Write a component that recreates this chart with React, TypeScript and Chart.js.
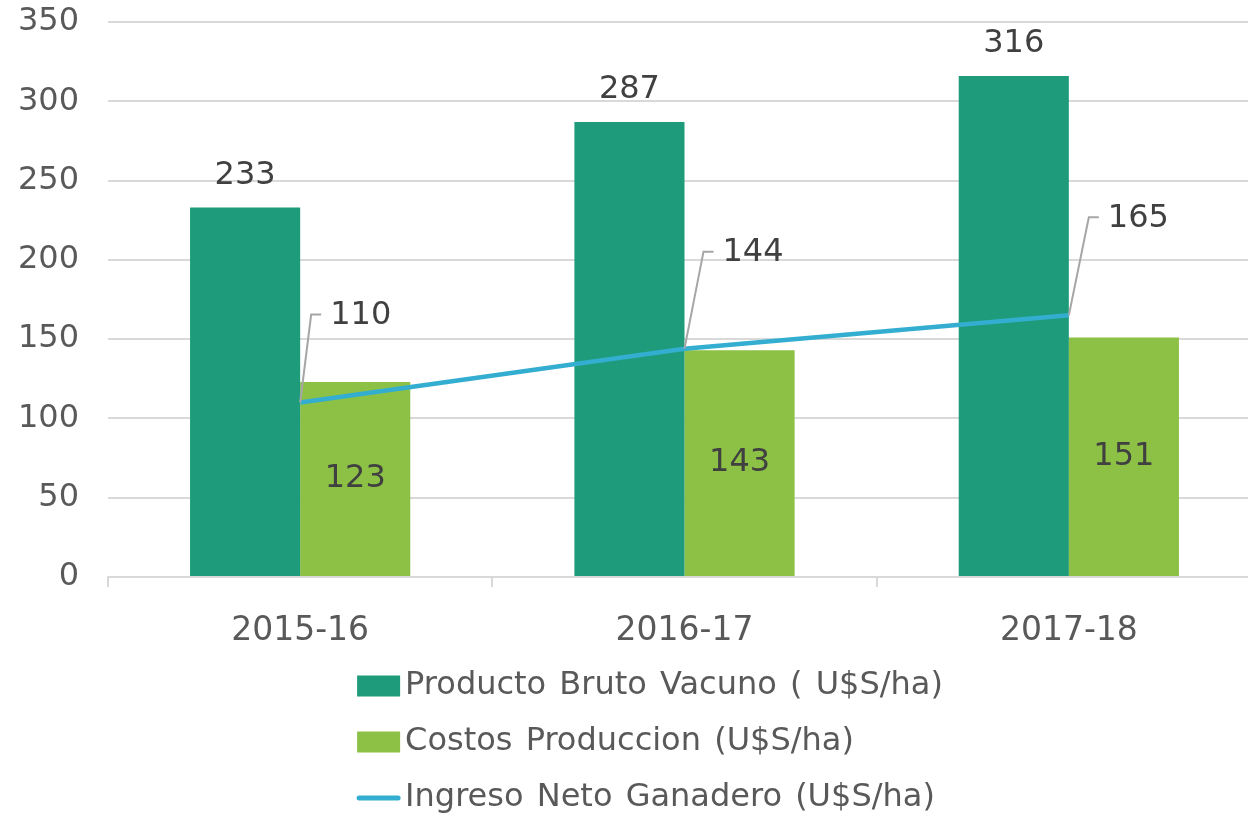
import React, { useEffect, useRef } from "react";
import { Chart, registerables } from "chart.js";

Chart.register(...registerables);

const categories = ["2015-16", "2016-17", "2017-18"];
const productoBruto = [233, 287, 316];
const costosProduccion = [123, 143, 151];
const ingresoNeto = [110, 144, 165];
const seriesNames = [
  "Producto Bruto Vacuno ( U$S/ha)",
  "Costos Produccion (U$S/ha)",
  "Ingreso Neto Ganadero (U$S/ha)",
];
const yMin = 0;
const yMax = 350;
const yStep = 50;

// leader-line label offsets (layout only) for the line series labels
const leaderDx = [11, 19, 20];
const leaderDy = [-88, -97, -98];

const FONT = "'DejaVu Sans', Verdana, sans-serif";
const DARK_GREEN = "#1E9B7A";
const LIGHT_GREEN = "#8CC145";
const BLUE = "#33AED0";
const LABEL_COLOR = "#404040";
const TICK_COLOR = "#595959";
const GRID_COLOR = "#D9D9D9";

const CANVAS_W = 1300;
const CANVAS_H = 815;

const dataLabelPlugin = {
  id: "dataLabels",
  afterDatasetsDraw(chart: any) {
    const ctx = chart.ctx;
    ctx.save();
    ctx.font = `32px ${FONT}`;
    ctx.fillStyle = LABEL_COLOR;
    ctx.textAlign = "center";
    ctx.textBaseline = "middle";
    const m0 = chart.getDatasetMeta(0);
    m0.data.forEach((el: any, i: number) => {
      ctx.fillText(String(chart.data.datasets[0].data[i]), el.x, el.y - 32);
    });
    const m1 = chart.getDatasetMeta(1);
    m1.data.forEach((el: any, i: number) => {
      ctx.fillText(String(chart.data.datasets[1].data[i]), el.x, (el.y + el.base) / 2);
    });
    const m2 = chart.getDatasetMeta(2);
    m2.data.forEach((el: any, i: number) => {
      const px = el.x;
      const py = el.y;
      const kx = px + leaderDx[i];
      const ky = py + leaderDy[i];
      ctx.strokeStyle = "#A6A6A6";
      ctx.lineWidth = 2;
      ctx.beginPath();
      ctx.moveTo(px, py);
      ctx.lineTo(kx, ky);
      ctx.lineTo(kx + 10, ky);
      ctx.stroke();
      ctx.textAlign = "left";
      ctx.fillText(String(chart.data.datasets[2].data[i]), kx + 19, ky + 1);
    });
    ctx.restore();
  },
};

const legendPlugin = {
  id: "customLegend",
  afterDraw(chart: any) {
    const ctx = chart.ctx;
    ctx.save();
    ctx.font = `32px ${FONT}`;
    try {
      (ctx as any).wordSpacing = "3px";
    } catch (e) {}
    const names = chart.data.datasets.map((d: any) => d.label);
    const maxW = Math.max(...names.map((n: string) => ctx.measureText(n).width));
    const boxW = 43;
    const gap = 5;
    const blockW = boxW + gap + maxW;
    const x0 = (chart.width - blockW) / 2;
    const base = chart.chartArea.bottom;
    const rows = [109, 165, 221];
    chart.data.datasets.forEach((d: any, i: number) => {
      const cy = base + rows[i];
      if (d.type === "line") {
        ctx.strokeStyle = d.borderColor;
        ctx.lineWidth = 5;
        ctx.lineCap = "round";
        ctx.beginPath();
        ctx.moveTo(x0 + 2, cy);
        ctx.lineTo(x0 + boxW - 2, cy);
        ctx.stroke();
      } else {
        ctx.fillStyle = d.backgroundColor;
        ctx.fillRect(x0, cy - 10.5, boxW, 21);
      }
      ctx.fillStyle = TICK_COLOR;
      ctx.textAlign = "left";
      ctx.textBaseline = "middle";
      ctx.fillText(d.label, x0 + boxW + gap, cy);
    });
    ctx.restore();
  },
};

export default function App() {
  const canvasRef = useRef<HTMLCanvasElement | null>(null);

  useEffect(() => {
    if (!canvasRef.current) return;
    const chart = new Chart(canvasRef.current, {
      type: "bar",
      data: {
        labels: categories,
        datasets: [
          {
            type: "bar",
            label: seriesNames[0],
            data: productoBruto,
            backgroundColor: DARK_GREEN,
            categoryPercentage: 0.573,
            barPercentage: 1,
            order: 1,
          },
          {
            type: "bar",
            label: seriesNames[1],
            data: costosProduccion,
            backgroundColor: LIGHT_GREEN,
            categoryPercentage: 0.573,
            barPercentage: 1,
            order: 1,
          },
          {
            type: "line",
            label: seriesNames[2],
            data: ingresoNeto,
            borderColor: BLUE,
            backgroundColor: BLUE,
            borderWidth: 4.5,
            pointRadius: 0,
            tension: 0,
            order: 0,
          } as any,
        ],
      },
      options: {
        responsive: false,
        animation: false,
        devicePixelRatio: 1,
        layout: { padding: { top: 22, right: 39, left: 0, bottom: 0 } },
        plugins: {
          legend: { display: false },
          tooltip: { enabled: false },
        },
        scales: {
          x: {
            grid: {
              display: true,
              drawOnChartArea: false,
              drawTicks: true,
              tickLength: 10,
              color: GRID_COLOR,
              lineWidth: 2,
              offset: true,
            },
            border: { display: true, color: GRID_COLOR, width: 2 },
            ticks: {
              color: TICK_COLOR,
              font: { family: FONT, size: 33 },
              padding: 25,
              maxRotation: 0,
            },
            afterFit: (s: any) => {
              s.height = CANVAS_H - 577;
              s.paddingLeft = 0;
              s.paddingRight = 0;
            },
          },
          y: {
            min: yMin,
            max: yMax,
            grid: { color: GRID_COLOR, lineWidth: 2, drawTicks: false },
            border: { display: false },
            ticks: {
              stepSize: yStep,
              color: TICK_COLOR,
              font: { family: FONT, size: 32 },
              padding: 29,
            },
            afterFit: (s: any) => {
              s.width = 108;
              s.paddingTop = 0;
              s.paddingBottom = 0;
            },
          },
        },
      },
      plugins: [dataLabelPlugin, legendPlugin],
    });
    return () => chart.destroy();
  }, []);

  return (
    <div
      style={{
        position: "fixed",
        left: 0,
        top: 0,
        width: 1248,
        height: 815,
        overflow: "hidden",
        background: "#fff",
      }}
    >
      <canvas ref={canvasRef} width={CANVAS_W} height={CANVAS_H} style={{ display: "block" }} />
    </div>
  );
}
